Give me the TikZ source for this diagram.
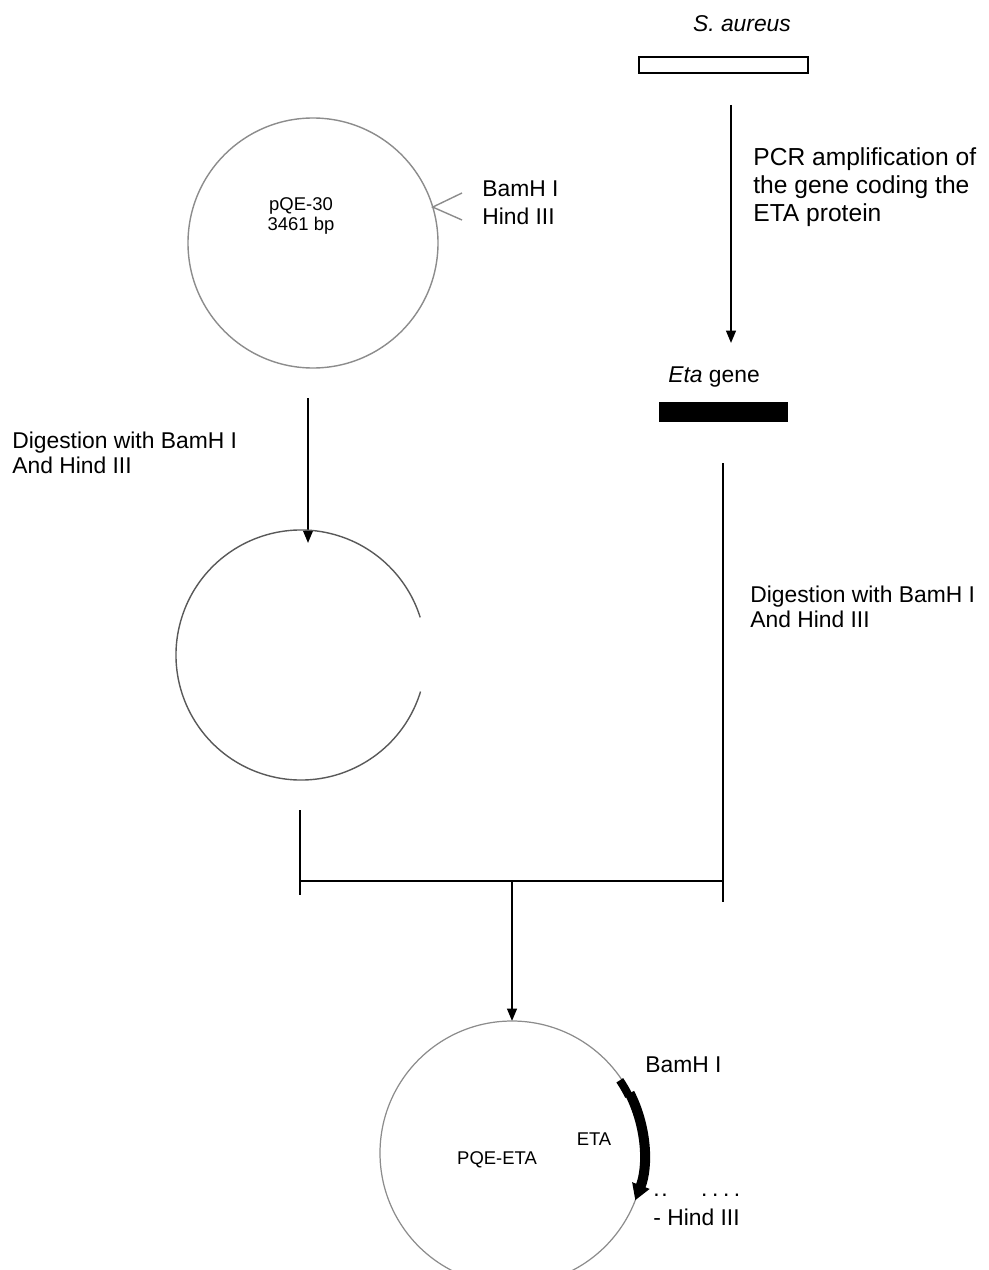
\documentclass[tikz,border=0pt]{standalone}
\usepackage{fontspec}
\setmainfont{Liberation Sans}
\usetikzlibrary{arrows.meta,positioning,calc}
\tikzset{
    lbl/.style={inner sep=0pt, anchor=north west, align=left, font=\fontsize{13}{14.2}\selectfont},
    smalllbl/.style={inner sep=0pt, align=center, font=\fontsize{10.5}{11.4}\selectfont},
    plasmid/.style={draw=black!45, line width=0.8pt},
    link/.style={draw=black, line width=1.1pt},
    arr/.style={link, -{Triangle[length=7pt,width=5.5pt]}}
}

\begin{document}
\begin{tikzpicture}[x=0.02cm, y=-0.02cm]
    \useasboundingbox (0,0) rectangle (988,1270);

    % S. aureus and PCR step
    \node[inner sep=0pt, font=\fontsize{13}{14}\selectfont\itshape] (org) at (742,24) {S. aureus};
    \draw[line width=1.1pt] (639,57) rectangle (808,73);
    \coordinate (pcrtop) at (731,105);
    \coordinate (pcrbot) at (731,343);
    \draw[arr] (pcrtop) -- (pcrbot);
    \node[lbl, font=\fontsize{14}{16}\selectfont] (pcr) at (753,147) {PCR amplification of\\the gene coding the\\ETA protein};

    \node[inner sep=0pt, anchor=base west, font=\fontsize{13}{14}\selectfont] (eta) at (668,382) {\textit{Eta} gene};
    \fill[black] (659,402) rectangle (788,422);

    % vector pQE-30 (y axis points down, so angles are mirrored)
    \coordinate (vec) at (313,243);
    \draw[plasmid] (vec) circle (125);
    \node[smalllbl] (vecname) at (301,216) {pQE-30\\3461 bp};
    \coordinate (site) at ($(vec)+(-16.7:125)$);
    \coordinate (bamend) at (462,193);
    \coordinate (hindend) at (462,220);
    \draw[plasmid] (bamend) -- (site) -- (hindend);
    \node[inner sep=0pt, anchor=base west, font=\fontsize{13}{14}\selectfont] (bam) at (482,197) {BamH I};
    \node[inner sep=0pt, anchor=base west, font=\fontsize{13}{14}\selectfont] (hind) at (482,225) {Hind III};

    % digestion of the vector
    \coordinate (digtop) at (308,398);
    \coordinate (digbot) at (308,543);
    \draw[arr] (digtop) -- (digbot);
    \node[lbl] (digvec) at (12,432) {Digestion with BamH I\\And Hind III};

    \coordinate (cut) at (301,655);
    \draw[plasmid, draw=black!65] ($(cut)+(17:125)$) arc (17:342.5:125);

    % digestion of the gene
    \coordinate (genetop) at (723,463);
    \coordinate (genebot) at (723,902);
    \draw[link] (genetop) -- (genebot);
    \node[lbl] (diggene) at (750,586) {Digestion with BamH I\\And Hind III};

    % ligation
    \coordinate (vectop) at (300,810);
    \coordinate (vecbot) at (300,895);
    \coordinate (joinl) at (300,881);
    \coordinate (joinr) at (723,881);
    \coordinate (joinm) at (512,881);
    \draw[link] (vectop) -- (vecbot);
    \draw[link] (joinl) -- (joinr);

    % recombinant plasmid
    \coordinate (rec) at (512,1153);
    \coordinate (rectop) at (512,1021);
    \draw[arr] (joinm) -- (rectop);
    \draw[plasmid, line width=0.7pt] (rec) circle (132);
    \draw[line width=4.6pt] ($(rec)+(-34:130)$) arc (-34:-26:130);
    \draw[line width=5.7pt, -{Triangle[length=9pt,width=10pt]}] ($(rec)+(-27:132)$) arc (-27:21:132);
    \node[smalllbl] (recname) at (497,1160) {PQE-ETA};
    \node[smalllbl] (insert) at (594,1139) {ETA};
    \node[inner sep=0pt, anchor=base west, font=\fontsize{13}{14}\selectfont] (recbam) at (645,1072) {BamH I};
    \node[inner sep=0pt, anchor=base west, font=\fontsize{13}{14}\selectfont] (dots) at (653,1196) {.\kern1pt.\hspace{19pt}.\kern2.6pt.\kern2.6pt.\kern2.6pt.};
    \node[inner sep=0pt, anchor=base west, font=\fontsize{13}{14}\selectfont] (rechind) at (653,1225) {- Hind III};
\end{tikzpicture}
\end{document}
